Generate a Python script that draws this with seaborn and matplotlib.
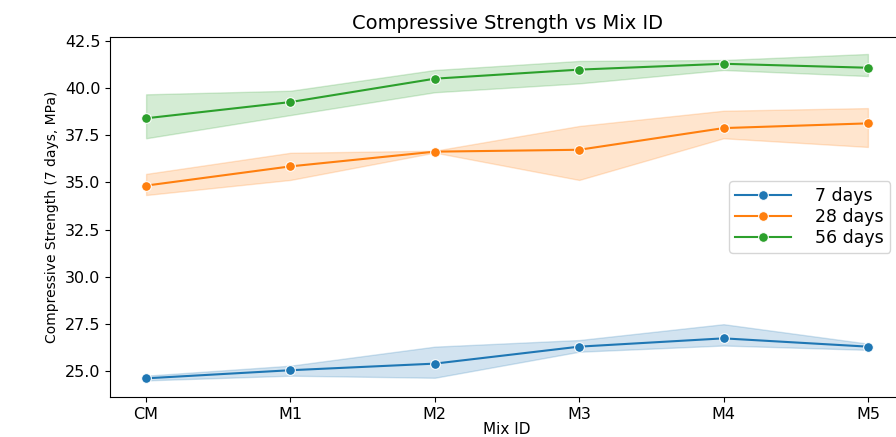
import numpy as np
import pandas as pd
import seaborn as sns
import matplotlib.pyplot as plt

# mixes and the three test specimens per mix (MPa)
mixes = ["CM", "M1", "M2", "M3", "M4", "M5"]
days_7 = [[24.50, 24.58, 24.75],
          [24.75, 25.09, 25.28],
          [24.64, 25.24, 26.29],
          [26.02, 26.21, 26.64],
          [26.35, 26.36, 27.48],
          [26.12, 26.30, 26.45]]
days_28 = [[34.33, 34.71, 35.45],
           [35.13, 35.85, 36.57],
           [36.58, 36.63, 36.68],
           [35.13, 37.07, 37.99],
           [37.34, 37.50, 38.80],
           [36.88, 38.57, 38.94]]
days_56 = [[37.34, 38.19, 39.67],
           [38.57, 39.35, 39.86],
           [39.78, 40.76, 40.96],
           [40.25, 41.25, 41.44],
           [40.96, 41.42, 41.49],
           [40.64, 40.79, 41.81]]

rows = []
for age, vals in [("7 days", days_7), ("28 days", days_28), ("56 days", days_56)]:
    for mix, reps in zip(mixes, vals):
        for v in reps:
            rows.append({"Mix ID": mix, "Age": age, "Strength": v})
df = pd.DataFrame(rows)

fig = plt.figure(figsize=(8.96, 4.37), dpi=100)
ax = fig.add_axes([110/896, 40/437, 794/896, 360/437])

sns.lineplot(data=df, x="Mix ID", y="Strength", hue="Age", marker="o",
             markersize=7, errorbar=("pi", 100), ax=ax)

ax.set_ylim(23.62, 42.71)
ax.set_title("Compressive Strength vs Mix ID", fontsize=14)
ax.set_xlabel("Mix ID", fontsize=11, labelpad=0)
ax.set_ylabel("Compressive Strength (7 days, MPa)", fontsize=10)
ax.tick_params(labelsize=11.5)
ax.legend(loc="center right", fontsize=12.5, borderaxespad=0.8,
          labelspacing=0.15, handlelength=3.2, handletextpad=1.4, borderpad=0.35)

plt.savefig("out.png", dpi=100)
